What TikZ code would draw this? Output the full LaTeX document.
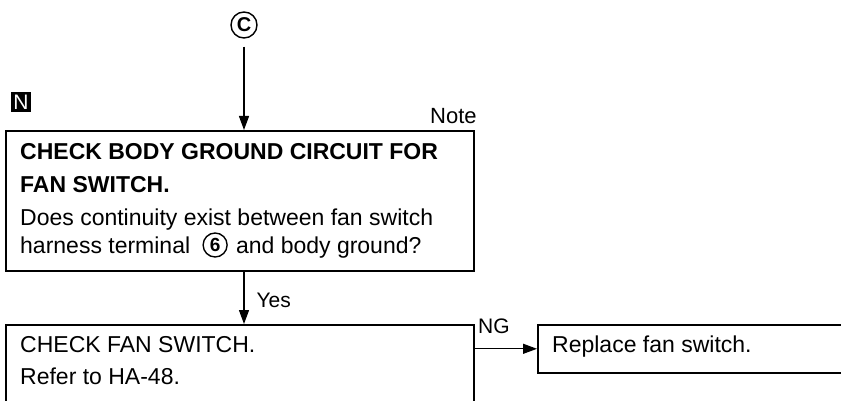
\documentclass[tikz,border=0pt]{standalone}
\usepackage{fontspec}
\setmainfont{Liberation Sans}
\usetikzlibrary{arrows.meta}
\begin{document}
\begin{tikzpicture}[x=1pt,y=-1pt,
  box/.style={draw, line width=1.6pt, rectangle, inner sep=0pt, anchor=north west},
  conn/.style={line width=1.3pt, -{Triangle[width=10pt,length=14pt]}},
  txt/.style={anchor=base west, inner sep=0pt, font=\fontsize{23}{27}\selectfont},
  btxt/.style={txt, font=\fontsize{23}{27}\selectfont\bfseries},
  lbl/.style={anchor=base west, inner sep=0pt, font=\fontsize{21}{24}\selectfont}]
\clip (0,0) rectangle (841,401);
\fill[white] (0,0) rectangle (841,401);
% connector marker C
\node[draw, circle, line width=1.4pt, inner sep=1pt, minimum size=26pt,
      font=\fontsize{20}{22}\selectfont\bfseries] (c) at (244,25) {C};
% N badge
\node[fill=black, text=white, inner sep=0pt, minimum size=20pt,
      font=\fontsize{21}{22}\selectfont] (n) at (21,102) {N};
\node[lbl, font=\fontsize{22}{24}\selectfont] (note) at (430,124) {Note};
% boxes
\node[box, minimum width=468pt, minimum height=140pt] (q) at (5,130) {};
\node[box, minimum width=468pt, minimum height=110pt] (b2) at (5,324) {};
\node[box, minimum width=330pt, minimum height=48pt] (b3) at (537,324) {};
% texts of question box
\node[btxt] (q1) at (20,160) {CHECK BODY GROUND CIRCUIT FOR};
\node[btxt] (q2) at (20,193) {FAN SWITCH.};
\node[txt] (q3) at (20,225) {Does continuity exist between fan switch};
\node[txt] (q4a) at (20,253) {harness terminal};
\node[draw, circle, line width=1.4pt, inner sep=1pt, minimum size=24pt,
      font=\fontsize{19}{20}\selectfont\bfseries, anchor=west] (six)
      at ([xshift=12pt,yshift=8pt]q4a.base east) {6};
\node[txt, anchor=base west] (q4b) at ([xshift=8pt]six.east |- q4a.base) {and body ground?};
% texts of lower boxes
\node[txt] (b2a) at (20,352) {CHECK FAN SWITCH.};
\node[txt] (b2b) at (20,384) {Refer to HA-48.};
\node[txt] (b3a) at (552,352) {Replace fan switch.};
% connectors
\draw[conn, shorten <=8pt] (c.south) -- (c |- q.north);
\draw[conn] (c |- q.south) -- node[lbl, anchor=west, xshift=12pt, yshift=-3pt] (yes) {Yes} (c |- b2.north);
\draw[conn] (b3.west -| b2.east) -- (b3.west);
\node[lbl] (ng) at (478,333) {NG};
\end{tikzpicture}
\end{document}
